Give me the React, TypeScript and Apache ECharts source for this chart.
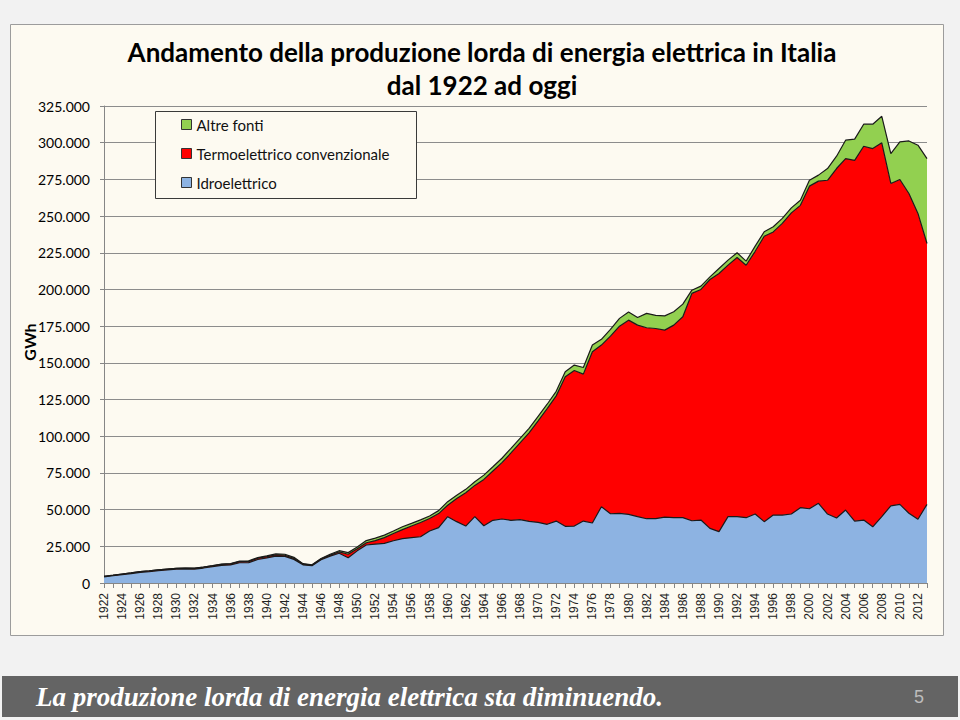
import React, { useEffect, useRef } from 'react';
import * as echarts from 'echarts';

const years = [
  '1922','1923','1924','1925','1926','1927','1928','1929','1930','1931',
  '1932','1933','1934','1935','1936','1937','1938','1939','1940','1941',
  '1942','1943','1944','1945','1946','1947','1948','1949','1950','1951',
  '1952','1953','1954','1955','1956','1957','1958','1959','1960','1961',
  '1962','1963','1964','1965','1966','1967','1968','1969','1970','1971',
  '1972','1973','1974','1975','1976','1977','1978','1979','1980','1981',
  '1982','1983','1984','1985','1986','1987','1988','1989','1990','1991',
  '1992','1993','1994','1995','1996','1997','1998','1999','2000','2001',
  '2002','2003','2004','2005','2006','2007','2008','2009','2010','2011',
  '2012','2013',
];

const idroelettrico = [
  4200, 4950, 5700, 6400, 7300, 7650, 8350, 8900, 9400, 9550,
  9450, 10200, 11100, 12050, 12300, 13800, 13900, 16000, 17100, 18300,
  18100, 16100, 12400, 11800, 15800, 18300, 20300, 17200, 21900, 25900,
  26500, 27000, 28800, 30200, 30900, 31500, 35400, 37700, 45200, 41800,
  38800, 45200, 39000, 42700, 43600, 42700, 43200, 42000, 41300, 40000,
  42200, 38600, 38800, 42200, 40900, 52000, 47200, 47500, 46800, 45200,
  43800, 43800, 44900, 44500, 44500, 42400, 42900, 37200, 35000, 45200,
  45200, 44500, 47000, 41800, 46300, 46300, 47000, 51300, 50600, 54300,
  47000, 44300, 49700, 42200, 42900, 38300, 45200, 52600, 53600, 47500,
  43400, 53600,
];

const termoelettrico = [
  350, 350, 400, 450, 500, 550, 550, 600, 550, 550,
  550, 600, 650, 700, 700, 800, 850, 900, 900, 900,
  800, 700, 500, 400, 600, 700, 900, 2400, 1400, 1500,
  2400, 3900, 4900, 6200, 7900, 9700, 8500, 9600, 7800, 15700,
  22700, 21300, 31600, 33600, 38400, 45900, 52300, 60300, 69200, 78800,
  85300, 101900, 106000, 100100, 116600, 110100, 121000, 127500, 132300, 130500,
  130100, 129600, 127400, 131200, 136900, 154900, 157100, 169600, 175900, 171400,
  176600, 172000, 179000, 194500, 192900, 198700, 205200, 206000, 219800, 219500,
  227400, 238100, 239500, 245800, 254700, 257700, 254700, 219600, 221300, 217900,
  208400, 177700,
];

const altreFonti = [
  50, 50, 50, 50, 50, 50, 50, 50, 100, 100,
  100, 100, 150, 200, 200, 300, 350, 400, 500, 600,
  700, 700, 300, 200, 300, 600, 800, 1100, 1200, 1500,
  1700, 1700, 1700, 1900, 1800, 1800, 1800, 2000, 2400, 2300,
  2300, 2500, 2900, 2900, 3000, 3100, 3000, 3000, 3100, 3000,
  3100, 3500, 3700, 4500, 4600, 3900, 4600, 5300, 5500, 5200,
  9800, 8900, 9700, 9100, 8600, 2200, 2300, 1800, 3400, 3400,
  3200, 2800, 3500, 3000, 3500, 3400, 3400, 3500, 4000, 4100,
  8000, 8400, 12500, 14400, 15000, 16600, 18100, 20400, 25700, 35800,
  46500, 57900,
];

const seriesNames = ['Idroelettrico', 'Termoelettrico convenzionale', 'Altre fonti'];
const seriesColors = ['#8DB3E2', '#FF0000', '#92D050'];
const titleText = 'Andamento della produzione lorda di energia elettrica in Italia\ndal 1922 ad oggi';
const yAxisName = 'GWh';
const footerText = 'La produzione lorda di energia elettrica sta diminuendo.';
const pageNumber = '5';

export default function App() {
  const ref = useRef<HTMLDivElement>(null);
  useEffect(() => {
    document.body.style.margin = '0';
    const chart = echarts.init(ref.current!, null, { renderer: 'svg' });
    const values = [idroelettrico, termoelettrico, altreFonti];
    chart.setOption({
      animation: false,
      backgroundColor: '#f2f2f2',
      title: {
        text: titleText,
        left: 477,
        top: 30,
        textAlign: 'center',
        textStyle: {
          fontFamily: 'Lato',
          fontWeight: 'bold',
          fontSize: 26,
          lineHeight: 33,
          color: '#000',
        },
      },
      legend: {
        orient: 'vertical',
        left: 176,
        top: 111,
        itemWidth: 10,
        itemHeight: 10,
        itemGap: 12,
        icon: 'rect',
        textStyle: { fontFamily: 'Lato', fontSize: 15, color: '#111', lineHeight: 17 },
        data: [2, 1, 0].map((i) => ({
          name: seriesNames[i],
          icon: 'rect',
          itemStyle: { color: seriesColors[i], borderColor: '#333', borderWidth: 1 },
        })),
      },
      grid: { left: 104, top: 106, right: 33, bottom: 137 },
      xAxis: {
        type: 'category',
        data: years,
        boundaryGap: false,
        axisLine: { lineStyle: { color: '#868686', width: 1 } },
        axisTick: { show: true, interval: 0, length: 5, lineStyle: { color: '#868686' } },
        axisLabel: {
          interval: 1,
          rotate: 90,
          margin: 10,
          fontFamily: 'Liberation Sans',
          fontSize: 12,
          color: '#222',
        },
        splitLine: { show: false },
      },
      yAxis: {
        type: 'value',
        min: 0,
        max: 325000,
        interval: 25000,
        axisLine: { show: true, lineStyle: { color: '#868686' } },
        axisTick: { show: true, length: 4, lineStyle: { color: '#868686' } },
        axisLabel: {
          margin: 14,
          fontFamily: 'Lato',
          fontSize: 14,
          color: '#000',
          formatter: (v: number) => (v === 0 ? '0' : Math.round(v / 1000) + '.000'),
        },
        splitLine: { show: true, lineStyle: { color: '#8c8c8c', width: 1 } },
      },
      series: values.map((d, i) => ({
        name: seriesNames[i],
        type: 'line',
        stack: 'totale',
        data: d,
        symbol: 'none',
        color: seriesColors[i],
        itemStyle: { color: seriesColors[i] },
        lineStyle: { color: '#1a1a1a', width: 1.2 },
        areaStyle: { color: seriesColors[i], opacity: 1 },
        z: 2,
      })),
      graphic: [
        {
          type: 'rect',
          z: -10,
          silent: true,
          shape: { x: 10.5, y: 24.5, width: 933, height: 611 },
          style: { fill: '#fdfaf1', stroke: '#9c9c9c', lineWidth: 1 },
        },
        {
          type: 'rect',
          z: 3,
          silent: true,
          shape: { x: 155.5, y: 111.5, width: 261, height: 87 },
          style: { fill: '#fdfaf1', stroke: '#3a3a3a', lineWidth: 1 },
        },
        {
          type: 'text',
          z: 5,
          silent: true,
          x: 29,
          y: 342,
          rotation: Math.PI / 2,
          style: {
            text: yAxisName,
            fill: '#000',
            fontFamily: 'Lato',
            fontWeight: 'bold',
            fontSize: 16,
            align: 'center',
            verticalAlign: 'middle',
          },
        },
        {
          type: 'rect',
          z: 1,
          silent: true,
          shape: { x: 2, y: 676, width: 956, height: 41 },
          style: { fill: '#646464' },
        },
        {
          type: 'text',
          z: 5,
          silent: true,
          x: 36,
          y: 697,
          style: {
            text: footerText,
            fill: '#ffffff',
            fontFamily: 'Liberation Serif',
            fontStyle: 'italic',
            fontWeight: 'bold',
            fontSize: 27,
            verticalAlign: 'middle',
            align: 'left',
          },
        },
        {
          type: 'text',
          z: 5,
          silent: true,
          x: 919,
          y: 697,
          style: {
            text: pageNumber,
            fill: '#bdbdbd',
            fontFamily: 'Liberation Sans',
            fontSize: 18,
            verticalAlign: 'middle',
            align: 'center',
          },
        },
      ],
    });
    return () => chart.dispose();
  }, []);
  return <div ref={ref} style={{ width: 960, height: 720, position: 'absolute', left: 0, top: 0 }} />;
}
